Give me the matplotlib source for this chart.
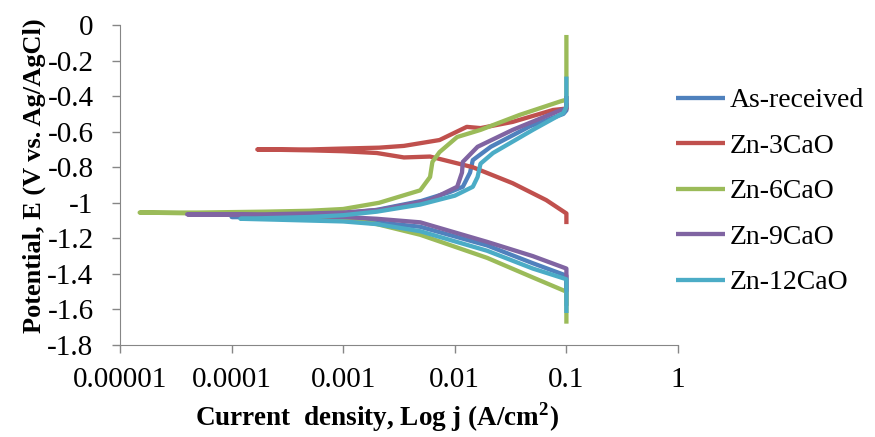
import matplotlib.pyplot as plt
from matplotlib.ticker import FixedLocator, NullLocator

plt.rcParams['font.family'] = ['Liberation Serif', 'DejaVu Serif']

# polarisation curves (current in A/cm2, potential in V)
labels = ['As-received', 'Zn-3CaO', 'Zn-6CaO', 'Zn-9CaO', 'Zn-12CaO']
colors = ['#4F81BD', '#C0504D', '#9BBB59', '#8064A2', '#4BACC6']

j_asrec = [0.1, 0.1, 0.05, 0.0195, 0.0049, 0.002, 0.001, 0.0005, 0.0002, 0.0001,
           0.0002, 0.0005, 0.001, 0.002, 0.005, 0.009, 0.0118, 0.0137, 0.0145,
           0.021, 0.047, 0.094, 0.1, 0.1]
e_asrec = [-1.58, -1.41, -1.34, -1.24, -1.135, -1.11, -1.10, -1.09, -1.085, -1.08,
           -1.075, -1.07, -1.06, -1.04, -0.99, -0.94, -0.91, -0.83, -0.76,
           -0.685, -0.57, -0.50, -0.48, -0.40]

j_3cao = [0.1, 0.1, 0.066, 0.033, 0.0145, 0.006, 0.0035, 0.002, 0.001, 0.0005, 0.00017,
          0.0005, 0.001, 0.0021, 0.0035, 0.0073, 0.0128, 0.017, 0.033, 0.076, 0.1, 0.1]
e_3cao = [-1.12, -1.06, -0.985, -0.89, -0.80, -0.74, -0.745, -0.72, -0.71, -0.705, -0.70,
          -0.70, -0.695, -0.69, -0.68, -0.647, -0.573, -0.58, -0.545, -0.478, -0.47, -0.44]

j_6cao = [0.1, 0.1, 0.05, 0.0195, 0.0049, 0.002, 0.001, 0.0005, 0.0002, 0.00005, 0.000015,
          0.00005, 0.0002, 0.0005, 0.001, 0.0021, 0.0049, 0.006, 0.0063, 0.0073, 0.0105,
          0.017, 0.038, 0.088, 0.1, 0.1]
e_6cao = [-1.68, -1.50, -1.42, -1.31, -1.18, -1.12, -1.09, -1.075, -1.065, -1.06, -1.055,
          -1.055, -1.05, -1.045, -1.035, -1.0, -0.93, -0.855, -0.77, -0.715, -0.63,
          -0.59, -0.506, -0.43, -0.42, -0.056]

j_9cao = [0.1, 0.1, 0.05, 0.0195, 0.0049, 0.002, 0.001, 0.0005, 0.0002, 0.0001, 0.00004,
          0.0001, 0.0002, 0.0005, 0.001, 0.0021, 0.006, 0.0105, 0.0116, 0.0118, 0.016,
          0.033, 0.088, 0.1, 0.1]
e_9cao = [-1.50, -1.37, -1.30, -1.22, -1.11, -1.09, -1.08, -1.075, -1.07, -1.068, -1.065,
          -1.065, -1.065, -1.06, -1.055, -1.04, -0.985, -0.91, -0.83, -0.77, -0.685,
          -0.59, -0.48, -0.47, -0.40]

j_12cao = [0.1, 0.1, 0.05, 0.0195, 0.0049, 0.002, 0.001, 0.0005, 0.00025, 0.00012,
           0.00025, 0.0005, 0.001, 0.002, 0.0049, 0.01, 0.0145, 0.016, 0.017, 0.022,
           0.05, 0.094, 0.1, 0.1]
e_12cao = [-1.62, -1.43, -1.37, -1.27, -1.16, -1.12, -1.105, -1.10, -1.095, -1.09,
           -1.085, -1.08, -1.07, -1.05, -1.01, -0.96, -0.91, -0.855, -0.78, -0.72,
           -0.59, -0.495, -0.46, -0.29]

x_ticks = [0.00001, 0.0001, 0.001, 0.01, 0.1, 1]
x_ticklabels = ['0.00001', '0.0001', '0.001', '0.01', '0.1', '1']
y_ticks = [0, -0.2, -0.4, -0.6, -0.8, -1, -1.2, -1.4, -1.6, -1.8]
y_ticklabels = ['0', '-0.2', '-0.4', '-0.6', '-0.8', '-1', '-1.2', '-1.4', '-1.6', '-1.8']

currents = [j_asrec, j_3cao, j_6cao, j_9cao, j_12cao]
potentials = [e_asrec, e_3cao, e_6cao, e_9cao, e_12cao]

fig = plt.figure(figsize=(8.75, 4.37), dpi=100)
ax = fig.add_axes([120 / 875, 1 - 345 / 437, 558 / 875, 320 / 437])

for j, e, lab, c in zip(currents, potentials, labels, colors):
    ax.plot(j, e, color=c, lw=3.1, label=lab, solid_joinstyle='round',
            solid_capstyle='butt')

ax.set_xscale('log')
ax.set_xlim(0.00001, 1)
ax.set_ylim(-1.8, 0)
ax.xaxis.set_major_locator(FixedLocator(x_ticks))
ax.xaxis.set_minor_locator(NullLocator())
ax.set_xticklabels(x_ticklabels)
ax.set_yticks(y_ticks)
ax.set_yticklabels(y_ticklabels)
ax.tick_params(labelsize=21, length=6, color='#868686', width=1)
ax.tick_params(axis='x', pad=10)
ax.tick_params(axis='y', pad=13)

for s in ['top', 'right']:
    ax.spines[s].set_visible(False)
for s in ['left', 'bottom']:
    ax.spines[s].set_color('#868686')

ax.set_xlabel('Current  density, Log j (A/cm$^{\\mathregular{2}}$)', fontsize=19.5,
              fontweight='bold', labelpad=5)
ax.xaxis.label.set_x(0.46)
ax.set_ylabel('Potential, E (V vs. Ag/AgCl)', fontsize=19, fontweight='bold', labelpad=1)
ax.yaxis.label.set_y(0.53)

fig.legend(loc='upper left', bbox_to_anchor=(676 / 875, 1 - 88 / 437), frameon=False,
           fontsize=20, handlelength=1.75, handletextpad=0.2, labelspacing=0.72,
           borderpad=0, borderaxespad=0)

fig.savefig('out.png', dpi=100)
